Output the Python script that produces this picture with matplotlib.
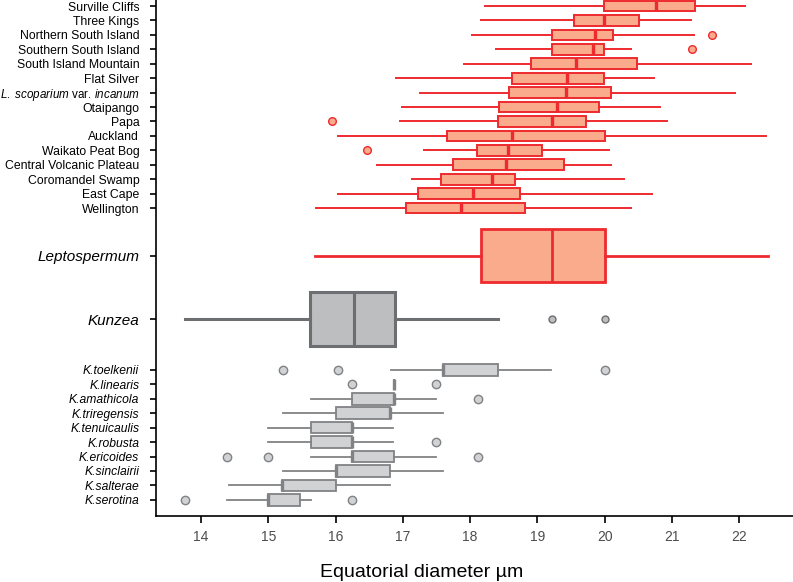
import matplotlib
matplotlib.use("Agg")
import matplotlib.pyplot as plt
import numpy as np

plt.rcParams['font.family'] = ['Liberation Sans', 'DejaVu Sans']
plt.rcParams['mathtext.fontset'] = 'custom'
plt.rcParams['mathtext.rm'] = 'Liberation Sans'
plt.rcParams['mathtext.it'] = 'Liberation Sans:italic'

# Leptospermum populations (top to bottom)
lepto_labels = ["Surville Cliffs", "Three Kings", "Northern South Island",
                "Southern South Island", "South Island Mountain", "Flat Silver",
                r"$\it{L.\ scoparium}$ var. $\it{incanum}$", "Otaipango", "Papa",
                "Auckland", "Waikato Peat Bog", "Central Volcanic Plateau",
                "Coromandel Swamp", "East Cape", "Wellington"]
lepto_lo = [18.22, 18.16, 18.03, 18.38, 17.91, 16.90, 17.25, 16.99, 16.96, 16.04, 17.32, 16.61, 17.13, 16.03, 15.71]
lepto_q1 = [19.99, 19.54, 19.21, 19.21, 18.90, 18.62, 18.58, 18.43, 18.41, 17.65, 18.10, 17.75, 17.57, 17.22, 17.04]
lepto_med = [20.77, 19.99, 19.85, 19.82, 19.58, 19.44, 19.42, 19.29, 19.21, 18.62, 18.57, 18.53, 18.33, 18.04, 17.87]
lepto_q3 = [21.35, 20.51, 20.12, 19.99, 20.48, 19.99, 20.10, 19.91, 19.72, 20.00, 19.07, 19.40, 18.66, 18.74, 18.82]
lepto_hi = [22.08, 21.29, 21.33, 20.39, 22.17, 20.73, 21.94, 20.83, 20.93, 22.40, 20.06, 20.10, 20.29, 20.71, 20.39]
lepto_fl = [[], [], [21.60], [21.30], [], [], [], [], [15.94], [], [16.47], [], [], [], []]

# genus summaries
genus_labels = ["Leptospermum", "Kunzea"]
genus_lo = [15.70, 13.76]
genus_q1 = [18.16, 15.62]
genus_med = [19.21, 16.27]
genus_q3 = [20.01, 16.89]
genus_hi = [22.43, 18.41]
genus_fl = [[], [19.21, 20.01]]

# Kunzea species (top to bottom)
kun_labels = ["K.toelkenii", "K.linearis", "K.amathicola", "K.triregensis",
              "K.tenuicaulis", "K.robusta", "K.ericoides", "K.sinclairii",
              "K.salterae", "K.serotina"]
kun_lo = [16.82, 16.87, 15.63, 15.22, 15.00, 15.00, 15.63, 15.22, 14.41, 14.38]
kun_q1 = [17.60, 16.87, 16.25, 16.01, 15.63, 15.63, 16.25, 16.01, 15.21, 14.99]
kun_med = [17.60, 16.87, 16.87, 16.81, 16.25, 16.25, 16.25, 16.01, 15.21, 14.99]
kun_q3 = [18.41, 16.87, 16.87, 16.81, 16.25, 16.25, 16.87, 16.81, 16.01, 15.47]
kun_hi = [19.20, 16.87, 17.49, 17.60, 16.86, 16.86, 17.49, 17.60, 16.81, 15.63]
kun_fl = [[15.22, 16.03, 20.01], [16.25, 17.50], [18.12], [], [], [17.50],
          [14.38, 15.00, 18.12], [], [], [13.76, 16.25]]

RED = "#EE2A2F"
RED_FACE = "#F9AB8C"
GREY = "#6D6E71"
GREY_FACE = "#BDBEC0"
LGREY = "#808285"
LGREY_FACE = "#D1D2D4"


def make_stats(lo, q1, med, q3, hi, fl):
    return [dict(whislo=a, q1=b, med=c, q3=d, whishi=e, fliers=f)
            for a, b, c, d, e, f in zip(lo, q1, med, q3, hi, fl)]


def draw(ax, stats, pos, width, edge, face, lw, medlw, flsize):
    ax.bxp(stats, positions=pos, widths=width, vert=False, patch_artist=True,
           showcaps=False,
           boxprops=dict(facecolor=face, edgecolor=edge, linewidth=lw),
           medianprops=dict(color=edge, linewidth=medlw),
           whiskerprops=dict(color=edge, linewidth=lw),
           flierprops=dict(marker="o", markerfacecolor=face, markeredgecolor=edge,
                           markersize=flsize, markeredgewidth=1.0))


lepto_pos = np.arange(len(lepto_labels))
genus_pos = [17.31, 21.71]
kun_pos = 25.22 + np.arange(len(kun_labels))

fig = plt.figure(figsize=(7.93, 5.82), dpi=100)
ax = fig.add_axes([156 / 793, 66 / 582, 637 / 793, 516 / 582])

draw(ax, make_stats(lepto_lo, lepto_q1, lepto_med, lepto_q3, lepto_hi, lepto_fl),
     lepto_pos, 0.75, RED, RED_FACE, 1.4, 2.4, 5.5)
draw(ax, make_stats(genus_lo[:1], genus_q1[:1], genus_med[:1], genus_q3[:1], genus_hi[:1], genus_fl[:1]),
     genus_pos[:1], 3.67, RED, RED_FACE, 2.0, 2.0, 5)
draw(ax, make_stats(genus_lo[1:], genus_q1[1:], genus_med[1:], genus_q3[1:], genus_hi[1:], genus_fl[1:]),
     genus_pos[1:], 3.74, GREY, GREY_FACE, 2.2, 2.2, 5)
draw(ax, make_stats(kun_lo, kun_q1, kun_med, kun_q3, kun_hi, kun_fl),
     kun_pos, 0.8, LGREY, LGREY_FACE, 1.3, 2.4, 6)

ax.set_xlim(13.33, 22.8)
ax.set_ylim(35.34, -0.42)

ax.set_yticks(list(lepto_pos) + genus_pos + list(kun_pos))
ax.set_yticklabels(lepto_labels + genus_labels + kun_labels)
for i, t in enumerate(ax.get_yticklabels()):
    if i < len(lepto_labels):
        t.set_fontsize(8.4 if i == 6 else 8.8)
    elif i < len(lepto_labels) + 2:
        t.set_fontsize(11)
        t.set_fontstyle("italic")
    else:
        t.set_fontsize(8.7)
        t.set_fontstyle("italic")

ax.set_xticks(np.arange(14, 23))
ax.tick_params(axis="x", labelsize=10, labelcolor="#4D4D4D", length=5, width=1.2, pad=5)
ax.tick_params(axis="y", length=4, width=1.2, pad=8)
ax.spines["top"].set_visible(False)
ax.spines["right"].set_visible(False)
ax.spines["left"].set_linewidth(1.2)
ax.spines["bottom"].set_linewidth(1.2)
ax.set_xlabel("Equatorial diameter µm", fontsize=14)
ax.xaxis.set_label_coords(0.4176, -0.093)

fig.savefig("out.png", dpi=100)
